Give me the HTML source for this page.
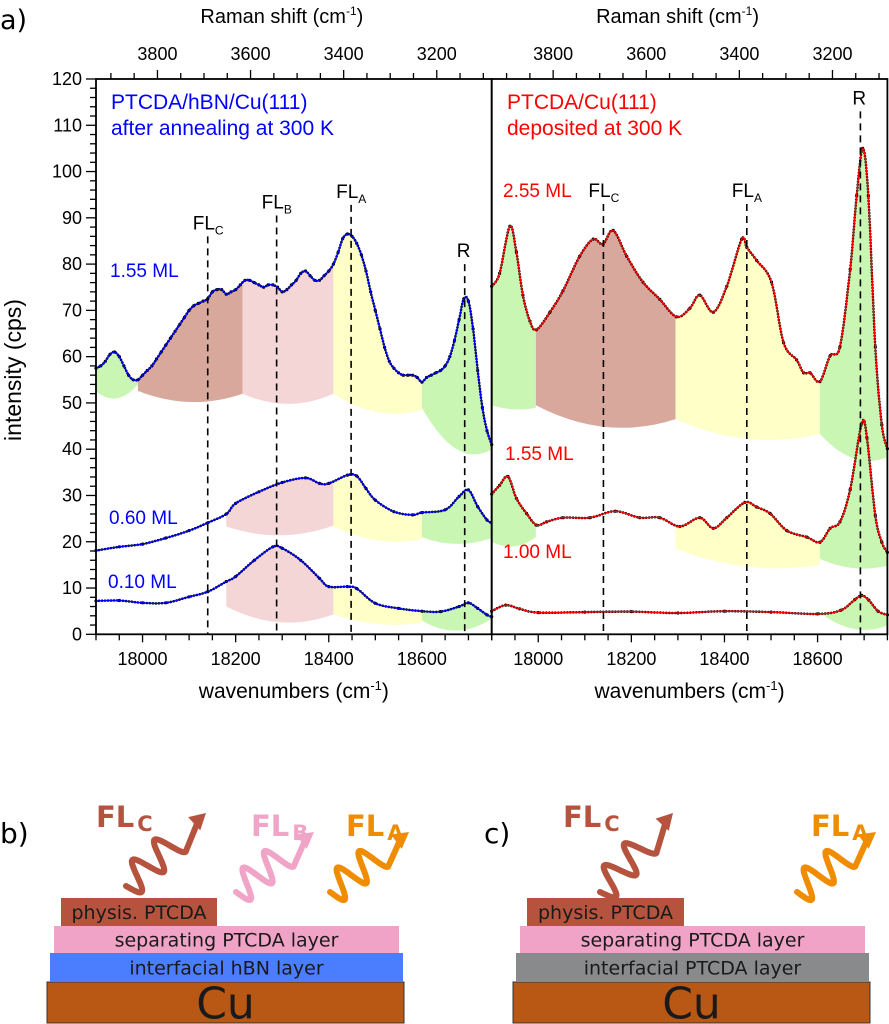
<!DOCTYPE html>
<html><head><meta charset="utf-8"><style>
html,body{margin:0;padding:0;background:#fff;width:889px;height:1024px;overflow:hidden}
svg{display:block;font-family:"Liberation Sans",sans-serif}
.dia{font-family:"DejaVu Sans","Liberation Sans",sans-serif}
</style></head><body>
<svg id="fig" width="889" height="1024" viewBox="0 0 889 1024" xmlns="http://www.w3.org/2000/svg">
<g id="plots"></g>
<g id="diagram"></g>
</svg>
<script>
// ---------------- DATA ----------------
const yTicks = [0,10,20,30,40,50,60,70,80,90,100,110,120];
const xTicks = [18000,18200,18400,18600];
const ramanTicks = [3800,3600,3400,3200];
const laserWn = 21832;

// left panel: PTCDA/hBN/Cu(111)
const wnL155 = [17900,17910,17920,17930,17940,17950,17960,17970,17980,17990,18000,18010,18020,18030,18040,18050,18060,18070,18080,18090,18100,18110,18120,18130,18140,18150,18160,18170,18180,18190,18200,18210,18220,18230,18240,18250,18260,18270,18280,18290,18300,18310,18320,18330,18340,18350,18360,18370,18380,18390,18400,18410,18420,18430,18440,18450,18460,18470,18480,18490,18500,18510,18520,18530,18540,18550,18560,18570,18580,18590,18600,18610,18620,18630,18640,18650,18660,18670,18680,18690,18700,18710,18720,18730,18740,18750];
const intL155 = [57.5,58,59,60.5,61,60,58,56,55,55,56,57,58,59.5,61,62.5,64,65.5,67,68.5,70,71,71.5,72,72.5,74,74.5,74.5,73.5,74,74.5,75.5,76.5,76.5,76,75.5,75,75.5,75.5,75,74,74.5,75.5,76.5,78,78.5,77.5,76.5,76.5,77.5,78.5,80,82.5,85.5,86.5,86,84.5,82,78.5,74,70,66,62,59,57.5,56.5,56,56,56,55.5,54.5,55.5,56,56.5,57,58,60,63.5,68,72.5,72,66,57,49,44,41];
const wnL060 = [17900,17950,18000,18050,18100,18140,18180,18200,18250,18300,18350,18380,18400,18440,18460,18480,18500,18540,18580,18600,18650,18680,18700,18720,18740,18750];
const intL060 = [18.1,18.9,19.5,20.8,22.4,24.1,26,28.3,30.8,32.8,33.8,32.6,32.6,34.4,34.2,31.5,29,26.5,25.8,26.3,26.9,29.8,31.2,27.6,24.7,24.1];
const wnL010 = [17900,17950,18000,18050,18100,18140,18180,18200,18240,18280,18300,18340,18380,18400,18440,18460,18500,18550,18600,18640,18680,18700,18720,18740,18750];
const intL010 = [7.2,7.3,6.8,6.8,8.1,9.2,11.4,12.5,16,18.9,18.6,16,12.1,10.3,10.3,9.9,6.7,5.6,5,4.9,6,6.8,5.6,4.2,3.8];

// right panel: PTCDA/Cu(111)
const wnR255 = [17900,17917,17939,17953,17967,17982,17996,18025,18053,18089,18118,18139,18161,18190,18225,18261,18297,18326,18347,18376,18405,18437,18448,18469,18501,18527,18555,18570,18584,18605,18627,18648,18670,18684,18697,18709,18724,18738,18750];
const intR255 = [75.2,78,88.2,82.6,73.3,67.7,65.8,69.6,74.2,81.7,85.4,84.3,87.3,81.7,76.1,72.4,68.6,70.5,73.3,69.6,75.2,85.4,83.6,80.8,76.1,63,59.3,56.5,56.5,54.6,60.2,62.1,78.9,94.8,105,94.8,62.1,45.3,40.1];
const wnR155 = [17900,17917,17935,17953,17975,17996,18018,18053,18111,18165,18218,18261,18304,18347,18376,18405,18444,18469,18498,18534,18577,18605,18627,18648,18670,18695,18706,18724,18738,18750];
const intR155 = [30.3,32.2,34.1,29.4,26.1,23.6,24.3,25.2,25.2,26.6,25.2,25.2,23.3,25.2,22.9,25.2,28.5,27.5,26.1,22.4,21,19.9,22.9,24.3,31.3,45.6,42.5,25.7,19.9,17.7];
const wnR100 = [17900,17930,17960,18000,18100,18200,18300,18400,18500,18600,18650,18680,18695,18710,18730,18750];
const intR100 = [5,6.3,5.5,4.7,4.8,4.9,4.6,5,4.8,4.4,5.2,7.5,8.4,7.4,5,4.2];

// fill bands: [start, end, bottomLeft, bottomRight, bottomMin, colour]
const bandsL155 = [[17900,17990,52.5,54,51,'green'],[17990,18215,52.6,52,50.2,'brown'],[18215,18410,52,52,49.8,'pink'],[18410,18600,52,48.5,48,'yellow'],[18600,18750,49,40,40,'green']];
const bandsL060 = [[18180,18410,23.3,23.5,21.4,'pink'],[18410,18600,23.3,20.5,20.3,'yellow'],[18600,18750,21,20.8,19.5,'green']];
const bandsL010 = [[18180,18410,6,4.3,2.6,'pink'],[18410,18600,4.3,2.5,2.2,'yellow'],[18600,18750,3,3.4,0.8,'green']];
const bandsR255 = [[17900,17995,49.5,49,48.6,'green'],[17995,18295,49.5,46.5,44.8,'brown'],[18295,18605,46.5,43.3,42.2,'yellow'],[18605,18750,43.3,38.3,38,'green']];
const bandsR155 = [[17900,17995,20,21,19,'green'],[18295,18605,18.5,15,14.6,'yellow'],[18605,18750,16.3,14.8,14.3,'green']];
const bandsR100 = [[18605,18750,4.7,1.9,1.2,'green']];

const fillColors = {green:'#c9f7b3',brown:'#d8a89c',pink:'#f4d6d6',yellow:'#ffffc8'};

// ---------------- GEOMETRY ----------------
const NS='http://www.w3.org/2000/svg';
const panelW = 395.7, yTop = 79, yBot = 634.3;
const wnMin = 17900, wnMax = 18750;
function xScale(left, wn){ return left + (wn-wnMin)*panelW/(wnMax-wnMin); }
function yScale(v){ return yBot - v*(yBot-yTop)/120; }

function el(tag, attrs, parent, text){
  const e=document.createElementNS(NS,tag);
  for(const k in attrs) e.setAttribute(k,attrs[k]);
  if(text!==undefined) e.textContent=text;
  parent.appendChild(e); return e;
}
const plots=document.getElementById('plots');

function splinePts(xs, ys){
  const out=[];
  const n=xs.length;
  for(let i=0;i<n-1;i++){
    const x0=xs[Math.max(i-1,0)],y0=ys[Math.max(i-1,0)];
    const x1=xs[i],y1=ys[i],x2=xs[i+1],y2=ys[i+1];
    const x3=xs[Math.min(i+2,n-1)],y3=ys[Math.min(i+2,n-1)];
    for(let s=0;s<8;s++){
      const t=s/8,t2=t*t,t3=t2*t;
      const f=(a,b,c,d)=>0.5*((2*b)+(-a+c)*t+(2*a-5*b+4*c-d)*t2+(-a+3*b-3*c+d)*t3);
      out.push([f(x0,x1,x2,x3),f(y0,y1,y2,y3)]);
    }
  }
  out.push([xs[n-1],ys[n-1]]);
  return out;
}
function valAt(pts, px){
  for(let i=0;i<pts.length-1;i++){
    if(px>=pts[i][0]-0.01 && px<=pts[i+1][0]+0.01){
      const t=(px-pts[i][0])/((pts[i+1][0]-pts[i][0])||1);
      return pts[i][1]+t*(pts[i+1][1]-pts[i][1]);
    }
  }
  return pts[pts.length-1][1];
}

function drawSeries(left, xs, ys, bands, color, name){
  const g=el('g',{},plots);
  
  
  const pxs=xs.map(w=>xScale(left,w)), pys=ys.map(yScale);
  const pts=splinePts(pxs,pys);
  bands.forEach((b,i)=>{
    const x1=xScale(left,b[0]), x2=xScale(left,b[1]);
    let d='M'+x1.toFixed(1)+','+valAt(pts,x1).toFixed(1);
    pts.forEach(p=>{ if(p[0]>x1 && p[0]<x2) d+=' L'+p[0].toFixed(1)+','+p[1].toFixed(1); });
    d+=' L'+x2.toFixed(1)+','+valAt(pts,x2).toFixed(1);
    const yl=b[2], yr=b[3], ym=b[4];
    const yc=2*ym-(yl+yr)/2;
    d+=' L'+x2.toFixed(1)+','+yScale(yr).toFixed(1)+' Q'+((x1+x2)/2).toFixed(1)+','+yScale(yc).toFixed(1)+' '+x1.toFixed(1)+','+yScale(yl).toFixed(1)+' Z';
    const p=el('path',{d:d,fill:fillColors[b[5]],stroke:'none'},g);
    
    
  });
  const ld='M'+pts.map(p=>p[0].toFixed(1)+','+p[1].toFixed(1)).join(' L');
  const dots=el('path',{d:ld,fill:'none',stroke:'#000','stroke-width':2.6,'stroke-linecap':'round','stroke-dasharray':'0.1 2.9'},g);
  
  
  pxs.forEach((x,i)=>{
    const c=el('circle',{cx:x.toFixed(1),cy:pys[i].toFixed(1),r:1.6,fill:'#000'},g);
    
    
  });
  const line=el('path',{d:ld,fill:'none',stroke:color,'stroke-width':1.4},g);
  
  
}

const leftX=96, rightX=96+panelW;
drawSeries(leftX,wnL155,intL155,bandsL155,'#0000ff','left-series-1-55ml');
drawSeries(leftX,wnL060,intL060,bandsL060,'#0000ff','left-series-0-60ml');
drawSeries(leftX,wnL010,intL010,bandsL010,'#0000ff','left-series-0-10ml');
drawSeries(rightX,wnR255,intR255,bandsR255,'#ff0000','right-series-2-55ml');
drawSeries(rightX,wnR155,intR155,bandsR155,'#ff0000','right-series-1-55ml');
drawSeries(rightX,wnR100,intR100,bandsR100,'#ff0000','right-series-1-00ml');

// dashed marker lines
const markersL=[[18140,86,'C'],[18288,90.5,'B'],[18448,92.8,'A'],[18692,80,'R']];
const markersR=[[18140,93,'C'],[18448,93,'A'],[18692,113,'R']];
function drawMarkers(left, list, side){
  list.forEach(m=>{
    const x=xScale(left,m[0]);
    const l=el('line',{x1:x,y1:yScale(m[1]),x2:x,y2:yBot,stroke:'#000','stroke-width':1.6,'stroke-dasharray':'7 5'},plots);
    
    
    const t=el('text',{x:(m[2]==='R'?x-8:x-15),y:yScale(m[1])-7,'font-size':19,fill:'#000'},plots);
    
    
    if(m[2]==='R'){ t.textContent='R'; }
    else { t.textContent='FL'; el('tspan',{'font-size':12,dy:5},t,m[2]); }
  });
}
drawMarkers(leftX,markersL,'left');
drawMarkers(rightX,markersR,'right');

// axes, frames, ticks
function drawAxes(left, side, yLabels){
  const g=el('g',{},plots);
  
  
  el('rect',{x:left,y:yTop,width:panelW,height:yBot-yTop,fill:'none',stroke:'#000','stroke-width':1.8},g);
  for(let w=17900; w<=18750; w+=50){
    const x=xScale(left,w), major=(w%200===0);
    el('line',{x1:x,y1:yBot,x2:x,y2:yBot+(major?8:6),stroke:'#000','stroke-width':1.3},g);
  }
  xTicks.forEach(w=>{
    const t=el('text',{x:xScale(left,w),y:665,'font-size':18,'text-anchor':'middle'},g,String(w));
    
    
  });
  for(let r=3100; r<=3950; r+=50){
    const wn=laserWn-r; if(wn<wnMin||wn>wnMax) continue;
    const x=xScale(left,wn), major=(r%200===0);
    el('line',{x1:x,y1:yTop,x2:x,y2:yTop-(major?9:6),stroke:'#000','stroke-width':1.3},g);
  }
  ramanTicks.forEach(r=>{
    const t=el('text',{x:xScale(left,laserWn-r),y:60,'font-size':18,'text-anchor':'middle'},g,String(r));
    
    
  });
  const rt=el('text',{x:left+panelW/2-12,y:23,'font-size':20,'text-anchor':'middle'},g,'Raman shift (cm');
  el('tspan',{'font-size':12,dy:-8},rt,'-1');
  el('tspan',{dy:8},rt,')');
  
  
  const wt=el('text',{x:left+panelW/2,y:698,'font-size':21,'text-anchor':'middle'},g,'wavenumbers (cm');
  el('tspan',{'font-size':13,dy:-8},wt,'-1');
  el('tspan',{dy:8},wt,')');
  
  
  if(yLabels){
    for(let v=0; v<=120; v+=2){
      const y=yScale(v), major=(v%10===0);
      el('line',{x1:left,y1:y,x2:left-(major?10:6),y2:y,stroke:'#000','stroke-width':1.3},g);
    }
    yTicks.forEach(v=>{
      const t=el('text',{x:left-14,y:yScale(v)+6,'font-size':18,'text-anchor':'end'},g,String(v));
      
      
    });
  }
}
drawAxes(leftX,'left',true);
drawAxes(rightX,'right',false);

// texts
function txt(x,y,s,size,color,name,extra){
  const t=el('text',Object.assign({x:x,y:y,'font-size':size,fill:color},extra||{}),plots,s);
  
  
  return t;
}
txt(0,29,'a)',27,'#000','panel-label-a',{'font-family':'DejaVu Sans, sans-serif'});
txt(21,370,'intensity (cps)',23,'#000','y-axis-title',{'text-anchor':'middle',transform:'rotate(-90 21 370)'});
txt(111,109,'PTCDA/hBN/Cu(111)',21,'#0000ff','left-title-line1');
txt(111,135,'after annealing at 300 K',21,'#0000ff','left-title-line2');
txt(507,109,'PTCDA/Cu(111)',21,'#ff0000','right-title-line1');
txt(507,135,'deposited at 300 K',21,'#ff0000','right-title-line2');
txt(110,300-23,'1.55 ML',19,'#0000ff','label-left-1-55ml');
txt(109,524,'0.60 ML',19,'#0000ff','label-left-0-60ml');
txt(108,588,'0.10 ML',19,'#0000ff','label-left-0-10ml');
txt(503,197,'2.55 ML',19,'#ff0000','label-right-2-55ml');
txt(505,460,'1.55 ML',19,'#ff0000','label-right-1-55ml');
txt(503,558,'1.00 ML',19,'#ff0000','label-right-1-00ml');

// ---------------- DIAGRAMS ----------------
const dg=document.getElementById('diagram');
function rect(x,y,w,h,fill,name,label,size,stroke){
  const r=el('rect',{x:x,y:y,width:w,height:h,fill:fill,stroke:stroke||'none','stroke-width':1},dg);
  
  
  const t=el('text',{x:x+w/2,y:y+h/2+size*0.36,'font-size':size,'text-anchor':'middle',fill:'#1a1a1a',class:'dia'},dg,label);
  
  
}
function wave(x0,y0,x1,y1,color,name){
  const dx=x1-x0, dy=y1-y0, L=Math.hypot(dx,dy), ux=dx/L, uy=dy/L, nx=-uy, ny=ux;
  const Lw=L*0.62, A=15, periods=2.25;
  let d='';
  for(let i=0;i<=80;i++){
    const s=i/80*Lw, off=A*Math.sin(2*Math.PI*periods*i/80);
    const px=x0+ux*s+nx*off, py=y0+uy*s+ny*off;
    d+=(i?' L':'M')+px.toFixed(1)+','+py.toFixed(1);
  }
  const ex=x0+ux*(L-10), ey=y0+uy*(L-10);
  d+=' L'+ex.toFixed(1)+','+ey.toFixed(1);
  const p=el('path',{d:d,fill:'none',stroke:color,'stroke-width':6,'stroke-linecap':'round','stroke-linejoin':'round'},dg);
  
  
  const hx=x1, hy=y1, bx=x0+ux*(L-16), by=y0+uy*(L-16);
  const h=el('polygon',{points:hx+','+hy+' '+(bx+nx*9)+','+(by+ny*9)+' '+(bx-nx*9)+','+(by-ny*9),fill:color},dg);
  
  
}
function flLabel(x,y,sub,color,name){
  const t=el('text',{x:x,y:y,'font-size':29,'font-weight':'bold',fill:color,class:'dia'},dg,'FL');
  el('tspan',{'font-size':21,dy:4,dx:3},t,sub);
  
  
}
const cBrown='#b5533f', cPink='#f0a5c8', cOrange='#f08c00';
// panel b
const pb=el('text',{x:0,y:843,'font-size':28,fill:'#000',class:'dia'},dg,'b)');
 
rect(47,982,357,41,'#b85814','b-cu-layer','Cu',44,'#333');
rect(50,953,353,29,'#4a7dff','b-hbn-layer','interfacial hBN layer',19);
rect(54,926,345,27,'#f0a3c6','b-separating-layer','separating PTCDA layer',19);
rect(61,898,156,28,'#b5533f','b-physis-layer','physis. PTCDA',19);
flLabel(96,827,'C',cBrown,'b-fl-c-label');
flLabel(251,836,'B',cPink,'b-fl-b-label');
flLabel(346,836,'A',cOrange,'b-fl-a-label');
wave(126,886,206,813,cBrown,'b-fl-c-arrow');
wave(236,892,314,832,cPink,'b-fl-b-arrow');
wave(330,892,409,832,cOrange,'b-fl-a-arrow');
// panel c
const pc=el('text',{x:484,y:843,'font-size':28,fill:'#000',class:'dia'},dg,'c)');
 
rect(513,982,357,41,'#b85814','c-cu-layer','Cu',44,'#333');
rect(516,953,353,29,'#888a8c','c-interfacial-layer','interfacial PTCDA layer',19);
rect(520,926,345,27,'#f0a3c6','c-separating-layer','separating PTCDA layer',19);
rect(527,898,157,28,'#b5533f','c-physis-layer','physis. PTCDA',19);
flLabel(563,827,'C',cBrown,'c-fl-c-label');
flLabel(811,836,'A',cOrange,'c-fl-a-label');
wave(600,892,673,813,cBrown,'c-fl-c-arrow');
wave(797,892,876,832,cOrange,'c-fl-a-arrow');
</script>
</body></html>
